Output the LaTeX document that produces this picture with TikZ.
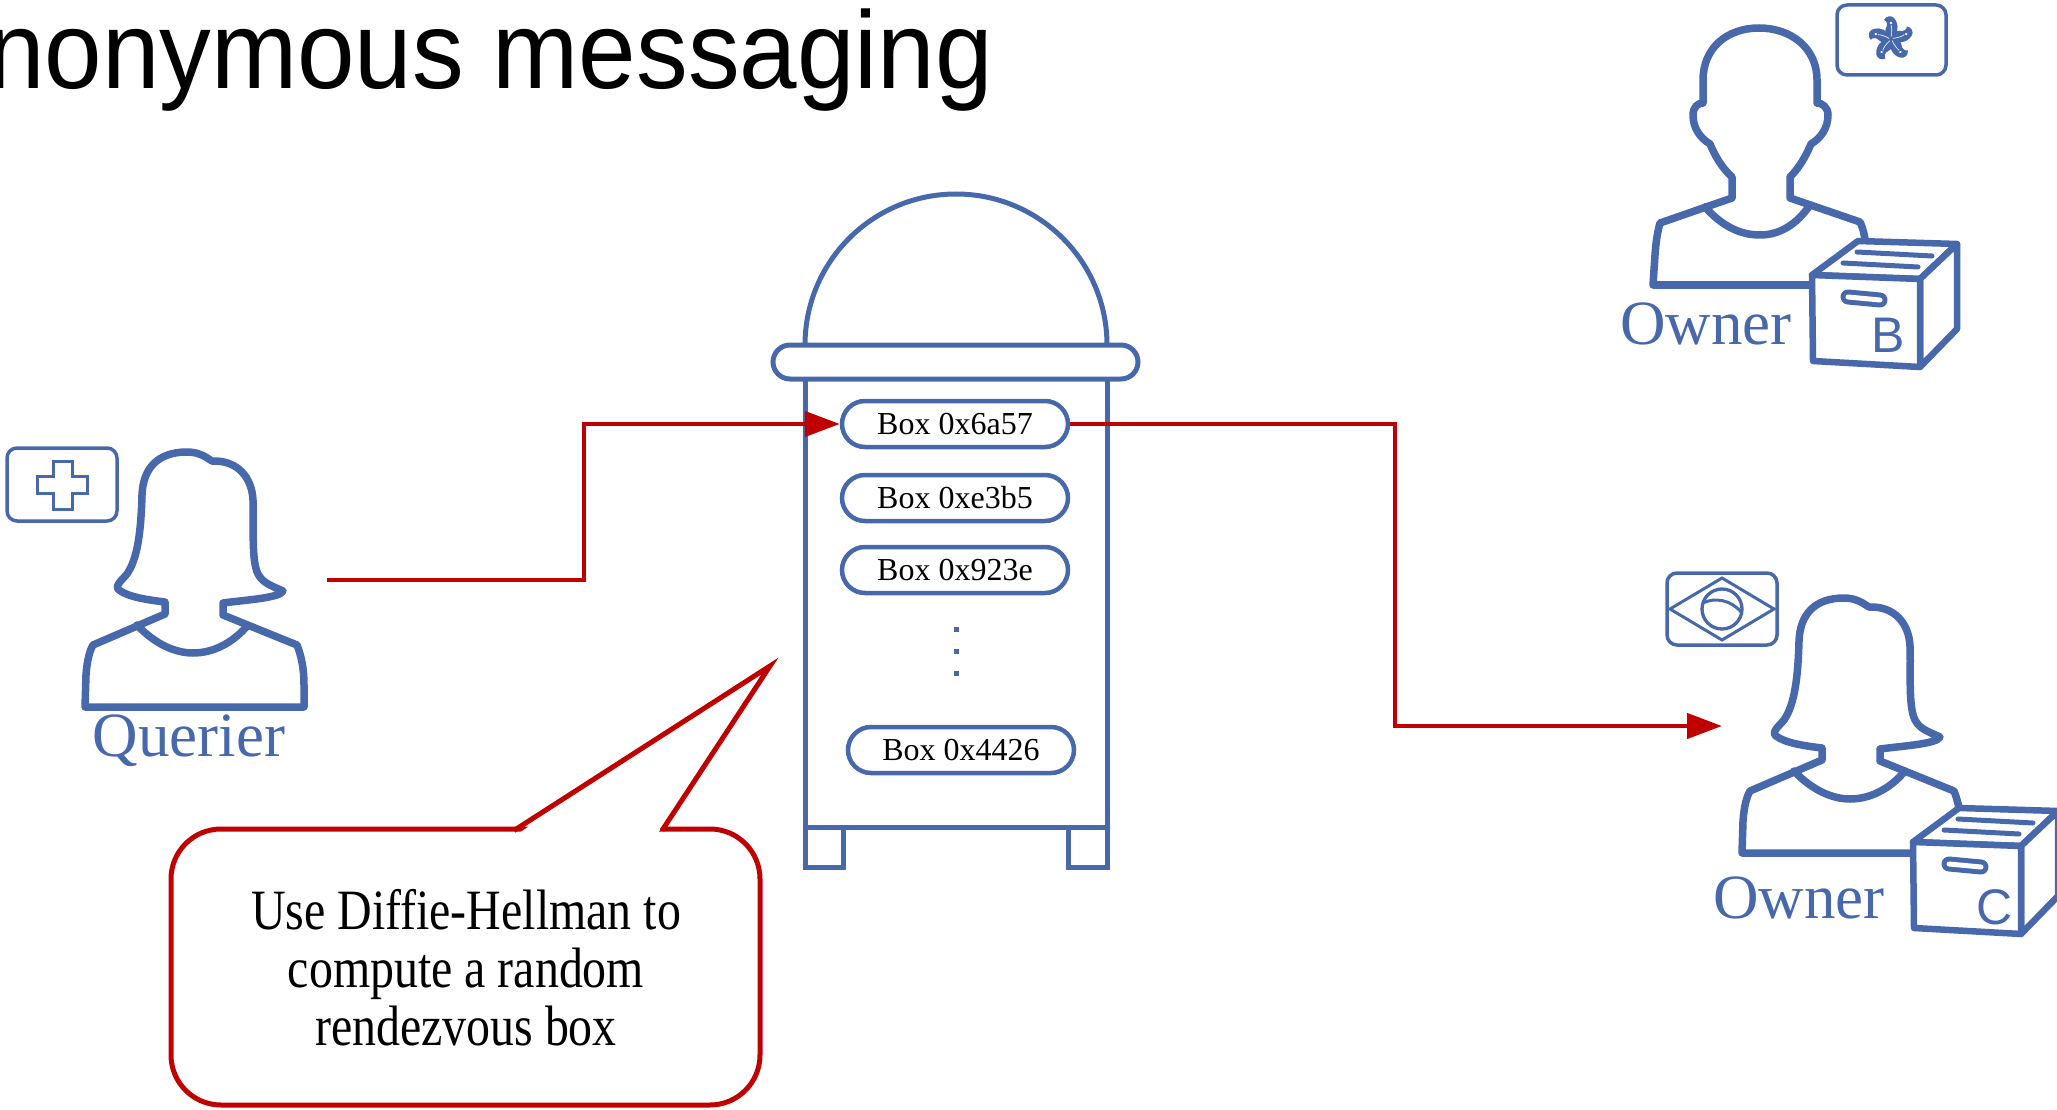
\documentclass[tikz,border=0pt]{standalone}
\usepackage{graphicx}
\usepackage{fontspec}
\setmainfont{Liberation Serif}
\newfontfamily\headfont{Liberation Sans}
\usetikzlibrary{arrows.meta}

\definecolor{figblue}{RGB}{72,104,172}
\definecolor{callred}{RGB}{192,0,0}

\tikzset{
  figline/.style={draw=figblue, line width=7.5pt, line join=round, line cap=round},
  badge/.style={draw=figblue, line width=3.5pt, rounded corners=10pt, fill=white},
  flagline/.style={draw=figblue, line width=3pt},
  boxslot/.style={draw=figblue, line width=4.5pt, rounded corners=23pt, fill=white,
    minimum width=226pt, minimum height=46pt, inner sep=0pt,
    font=\fontsize{32}{32}\selectfont},
  post/.style={draw=figblue, line width=5pt},
  flow/.style={draw=callred, line width=4.5pt, -{Triangle[length=35pt,width=25pt]}},
  person/.style={text=figblue, font=\fontsize{63}{63}\selectfont, inner sep=0pt, anchor=base},
  crateface/.style={draw=figblue, line width=6.5pt, line join=round, fill=white},
  crateletter/.style={text=figblue, font=\headfont\fontsize{50}{50}\selectfont, inner sep=0pt},
}

% woman silhouette, drawn at the Querier's place; shift it for other uses
\newcommand\womanfig{%
  \draw[figline, fill=white] (85,707) -- (86,675)
    .. controls (87,660) and (90,650) .. (93,645) -- (165,614) -- (165,602)
    .. controls (148,600) and (128,597) .. (119,590)
    .. controls (114,586) and (122,580) .. (127,574)
    .. controls (138,558) and (141,530) .. (142,495)
    .. controls (143,468) and (158,452) .. (187,452)
    .. controls (200,452) and (207,458) .. (212,461)
    .. controls (238,460) and (252,478) .. (253,500)
    .. controls (254,525) and (251,560) .. (258,574)
    .. controls (263,584) and (275,587) .. (283,591)
    .. controls (280,598) and (245,600) .. (223,603) -- (223,615) -- (297,645)
    .. controls (301,655) and (304,668) .. (304,685) -- (304,707) -- cycle;
  \draw[figline] (137,625) .. controls (155,644) and (175,653) .. (193,653)
    .. controls (212,653) and (232,644) .. (248,625);
}

% storage crate with a letter; #1 = front top-left corner, #2 = letter position, #3 = letter
\newcommand\cratefig[3]{%
  \begin{scope}[shift={#1}]
    \draw[crateface] (0,0) -- (46,-34) -- (145,-31) -- (108,4) -- cycle;
    \draw[crateface] (108,4) -- (145,-31) -- (145,54) -- (108,92) -- cycle;
    \draw[crateface] (0,0) -- (108,4) -- (108,92) -- (1,86) -- cycle;
    \draw[figblue, line width=5pt, line cap=round] (45,-23) -- (120,-19);
    \draw[figblue, line width=5pt, line cap=round] (31,-12) -- (106,-8);
    \draw[figblue, line width=15pt, line cap=round] (36,22) -- (68,25);
    \draw[white, line width=5pt, line cap=round] (36,22) -- (68,25);
    \node[crateletter] at #2 {#3};
  \end{scope}
}

% one petal of the bauhinia flower
\newcommand\petal{%
  \fill[figblue] (0,0) .. controls (7,-5) and (9,-14) .. (3,-21)
    .. controls (0,-24) and (-5,-23) .. (-7,-19)
    .. controls (-4,-18) and (-3,-14) .. (-5,-11)
    .. controls (-7,-8) and (-5,-3) .. (0,0) -- cycle;
  \draw[white, line width=0.6pt] (0,-2) .. controls (1,-7) and (1,-11) .. (0,-14);
  \fill[white] (0,-16) circle[radius=1.3];
}

\begin{document}
\begin{tikzpicture}[x=1pt, y=-1pt]
  \useasboundingbox (0,0) rectangle (2057,1110);
  \clip (0,0) rectangle (2057,1110);

  % title
  \node[anchor=base west, inner sep=0pt, font=\headfont\fontsize{110}{110}\selectfont]
    (title) at (-82,89) {\scalebox{0.94}[1]{Anonymous messaging}};

  % ---------------- querier ----------------
  \womanfig
  \node[person] (qlabel) at (189,756) {Querier};
  \draw[badge] (7,448) rectangle (117,521);
  \draw[figblue, line width=3pt, line join=miter]
    (53,461) -- (72,461) -- (72,476) -- (87,476) -- (87,493) -- (72,493)
    -- (72,509) -- (53,509) -- (53,493) -- (37,493) -- (37,476) -- (53,476) -- cycle;

  % ---------------- owner B ----------------
  \draw[figline, fill=white] (1653,285) -- (1655,255)
    .. controls (1656,240) and (1658,230) .. (1660,223) -- (1732,198) -- (1732,177)
    .. controls (1722,168) and (1715,156) .. (1710,144)
    .. controls (1700,138) and (1693,128) .. (1693,115)
    .. controls (1693,107) and (1698,103) .. (1703,103) -- (1703,80)
    .. controls (1703,48) and (1727,28) .. (1759,28)
    .. controls (1791,28) and (1817,48) .. (1817,80) -- (1817,103)
    .. controls (1822,103) and (1828,107) .. (1828,115)
    .. controls (1828,128) and (1821,138) .. (1811,144)
    .. controls (1806,156) and (1799,168) .. (1790,177) -- (1790,198) -- (1860,222)
    .. controls (1864,230) and (1866,242) .. (1867,258) -- (1868,285) -- cycle;
  \draw[figline] (1705,207) .. controls (1722,226) and (1740,235) .. (1760,235)
    .. controls (1780,235) and (1797,224) .. (1810,205);
  \cratefig{(1812,275)}{(76,60)}{B}
  \node[person] (olabelB) at (1706,344) {Owner};
  \draw[badge] (1837,5) rectangle (1946,75);
  \begin{scope}[shift={(1891,39)}]
    \foreach \a in {0,72,144,216,288} {
      \begin{scope}[rotate=\a]\petal\end{scope}
    }
  \end{scope}

  % ---------------- owner C ----------------
  \begin{scope}[shift={(1657,146)}]
    \womanfig
  \end{scope}
  \cratefig{(1913,842)}{(82,65)}{C}
  \node[person] (olabelC) at (1799,918) {Owner};
  \draw[badge] (1667,573) rectangle (1777,645);
  \draw[flagline, line join=miter] (1670,609) -- (1722,578) -- (1774,609) -- (1722,640) -- cycle;
  \draw[figblue, line width=3.3pt] (1722,609) circle[radius=20];
  \draw[flagline] (1703,603) .. controls (1715,597) and (1731,600) .. (1741,612);

  % ---------------- mailbox ----------------
  \draw[post] (805,345) .. controls (805,261.6) and (872.6,194) .. (956,194)
    .. controls (1039.4,194) and (1107,261.6) .. (1107,345);
  \draw[post, fill=white, rounded corners=17pt] (773,345) rectangle (1138,379);
  \draw[post] (805,379) -- (805,867) -- (843,867) -- (843,827);
  \draw[post] (1107,379) -- (1107,867) -- (1068,867) -- (1068,827);
  \draw[post] (805,827) -- (1107,827);

  \node[boxslot] (b1) at (955,424) {Box 0x6a57};
  \node[boxslot] (b2) at (955,498) {Box 0xe3b5};
  \node[boxslot] (b3) at (955,570) {Box 0x923e};
  \node[boxslot] (b4) at (961,750) {Box 0x4426};
  \foreach \yy in {629,651,673} {
    \fill[figblue] (953.5,\yy-2.5) rectangle (958.5,\yy+2.5);
  }

  % ---------------- message route ----------------
  \coordinate (qout) at (327,580);
  \coordinate (bend1) at (584,500);
  \coordinate (bend2) at (1395,575);
  \coordinate (cin) at (1722,726);
  \draw[flow] (qout) -| (bend1) |- (b1.west);
  \draw[flow] (b1.east) -| (bend2) |- (cin);

  % ---------------- callout ----------------
  \draw[callred, line width=5pt, rounded corners=50pt, fill=white] (171,829) rectangle (760,1105);
  \fill[white] (519,833) -- (770,666) -- (658,833) -- cycle;
  \draw[callred, line width=5pt, line join=miter] (514,830.5) -- (770,666) -- (662,830.5);
  \node[font=\fontsize{57}{58}\selectfont, align=center, inner sep=0pt, anchor=north]
    (note) at (466,889)
    {\scalebox{0.84}[1]{Use Diffie-Hellman to}\\
     \scalebox{0.84}[1]{compute a random}\\
     \scalebox{0.84}[1]{rendezvous box}};
\end{tikzpicture}
\end{document}
